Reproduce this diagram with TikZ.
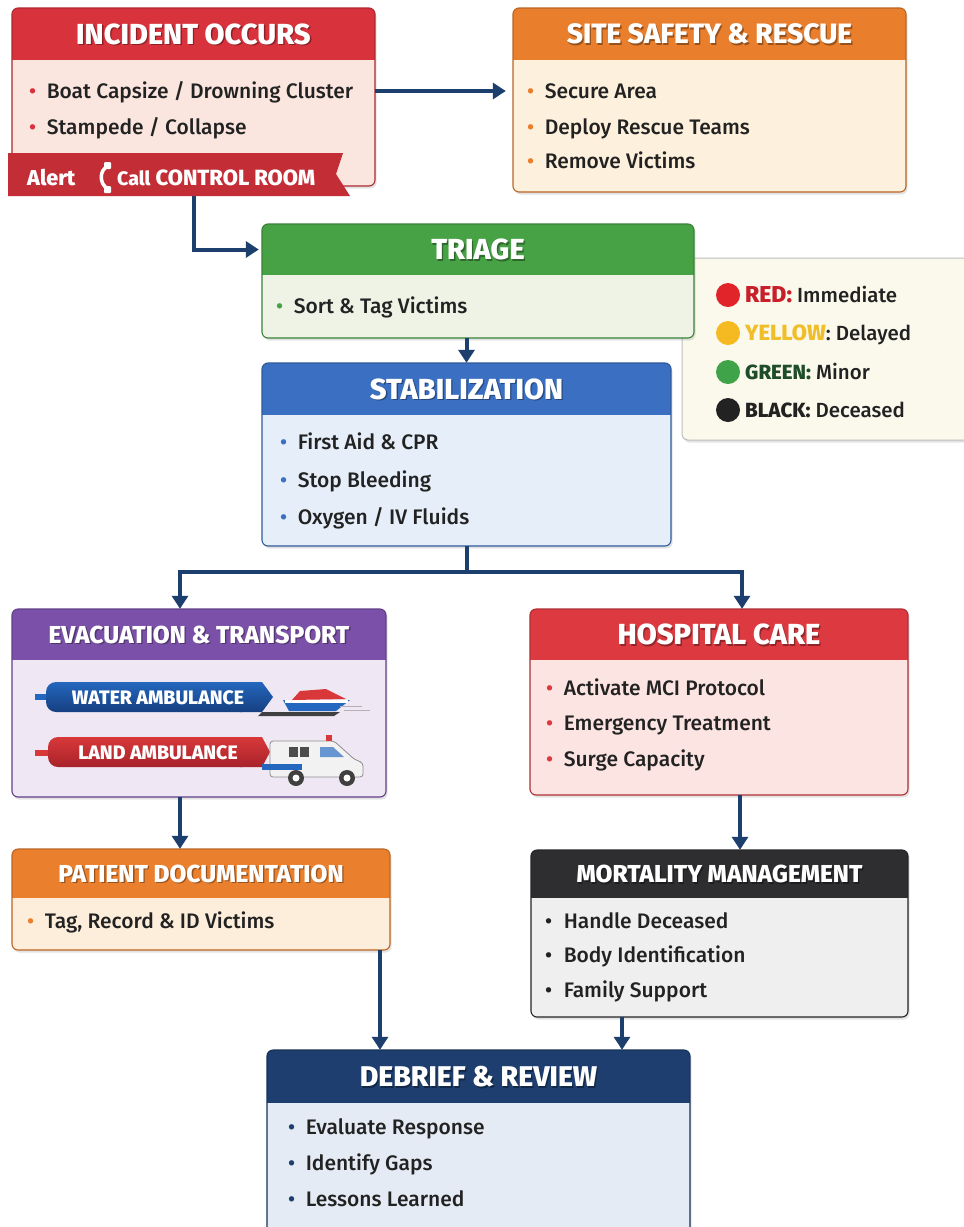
\documentclass[tikz,border=0pt]{standalone}
\usepackage{fontspec}
\setmainfont{Fira Sans}
\newfontfamily\bodyfont{Fira Sans Medium}
\newfontfamily\headfont{Fira Sans ExtraBold}
\usetikzlibrary{arrows.meta,shadows,calc}

\definecolor{ink}{HTML}{222222}
\definecolor{flowblue}{HTML}{1D3F6E}
\definecolor{incHead}{HTML}{D8323C}\definecolor{incBody}{HTML}{FBE6DF}
\definecolor{siteHead}{HTML}{E97E2C}\definecolor{siteBody}{HTML}{FDF0DC}
\definecolor{triHead}{HTML}{47A145}\definecolor{triBody}{HTML}{EEF3E6}
\definecolor{stabHead}{HTML}{3B6FC1}\definecolor{stabBody}{HTML}{E5EEF9}
\definecolor{evacHead}{HTML}{7B50A8}\definecolor{evacBody}{HTML}{EFE7F3}
\definecolor{hospHead}{HTML}{DC3A40}\definecolor{hospBody}{HTML}{FBE4E2}
\definecolor{docHead}{HTML}{EA7F2D}\definecolor{docBody}{HTML}{FDEEDB}
\definecolor{mortHead}{HTML}{2E2E31}\definecolor{mortBody}{HTML}{EFEFEF}
\definecolor{debHead}{HTML}{1D3E6E}\definecolor{debBody}{HTML}{E5EBF4}
\definecolor{legBody}{HTML}{FBF9EC}
\definecolor{keyRed}{HTML}{C8202A}\definecolor{keyYellow}{HTML}{F0BE2A}
\definecolor{keyGreen}{HTML}{1F4D2A}
\definecolor{dotRed}{HTML}{E0242A}\definecolor{dotYellow}{HTML}{F5B921}
\definecolor{dotGreen}{HTML}{3FA34A}\definecolor{dotBlack}{HTML}{222222}
\definecolor{ambBlue}{HTML}{2467BE}\definecolor{ambBlueDk}{HTML}{163F80}
\definecolor{ambRed}{HTML}{D8383A}\definecolor{ambRedDk}{HTML}{A8232A}

\tikzset{
  x=1pt, y=-1pt,
  stagebody/.style={draw=none, rounded corners=6pt, inner sep=0pt,
    drop shadow={opacity=0.22, shadow xshift=1.5pt, shadow yshift=-2.5pt}},
  flow/.style={draw=flowblue, line width=4pt, -{Triangle[length=13pt,width=16pt]}},
  flowline/.style={draw=flowblue, line width=4pt},
  item/.style={anchor=west, inner sep=0pt, text height=17pt, text depth=3pt,
    text=ink, font=\bodyfont\fontsize{21}{22}\selectfont},
  headtxt/.style={inner sep=0pt, text=white, font=\headfont},
  keytxt/.style={anchor=west, inner sep=0pt, text height=17pt, text depth=3pt,
    text=ink, font=\bodyfont\fontsize{20.5}{22}\selectfont},
  ambtxt/.style={inner sep=0pt, text=white, font=\headfont\fontsize{19.5}{21}\selectfont},
}

% #1 name, #2 x1, #3 y1, #4 x2, #5 y2, #6 header bottom, #7 header colour, #8 body colour, #9 title
\newcommand{\stage}[9]{%
  \node[stagebody, fill=#8, minimum width={(#4-#2)*1pt}, minimum height={(#5-#3)*1pt}]
    (#1) at ({(#2+#4)/2},{(#3+#5)/2}) {};
  \begin{scope}
    \clip[rounded corners=6pt] (#2,#3) rectangle (#4,#5);
    \fill[#7] (#2,#3) rectangle (#4,#6);
  \end{scope}
  \draw[#7!80!black, line width=1.1pt, rounded corners=6pt] (#2,#3) rectangle (#4,#5);
  \node[headtxt, text=black, text opacity=0.35] (#1-sh) at ({(#2+#4)/2+1.3},{(#3+#6)/2+1.6}) {#9};
  \node[headtxt] (#1-t) at ({(#2+#4)/2},{(#3+#6)/2}) {#9};
}
% #1 name, #2 x, #3 y, #4 bullet colour, #5 text
\newcommand{\bitem}[5]{%
  \node[item] (#1) at (#2,#3) {\textcolor{#4}{\textbullet}\hspace{10.5pt}#5};
}
\newcommand{\titlesz}[1]{\fontsize{#1}{#1}\selectfont}

\begin{document}
\begin{tikzpicture}
\fill[white] (0,0) rectangle (964,1227);
\useasboundingbox (0,0) rectangle (964,1227);

% ---- incident ----
\stage{incident}{12}{8}{375}{186}{60}{incHead}{incBody}{\titlesz{29}INCIDENT OCCURS}
\bitem{inc1}{29}{91}{incHead}{Boat Capsize / Drowning Cluster}
\bitem{inc2}{29}{127}{incHead}{Stampede / Collapse}

% ---- site safety ----
\stage{site}{513}{8}{906}{192}{60}{siteHead}{siteBody}{\titlesz{28}SITE SAFETY \& RESCUE}
\bitem{site1}{527}{91}{siteHead}{Secure Area}
\bitem{site2}{527}{127}{siteHead}{Deploy Rescue Teams}
\bitem{site3}{527}{161}{siteHead}{Remove Victims}

% ---- triage legend ----
\node[stagebody, fill=legBody, draw=black!25, line width=1pt,
      minimum width=293pt, minimum height=182pt] (legend) at (828.5,349) {};
\fill[dotRed] (728,295) circle (12);
\node[keytxt] (kred) at (745,295) {\textcolor{keyRed}{\headfont\fontsize{23}{23}\selectfont RED:} Immediate};
\fill[dotYellow] (728,333) circle (12);
\node[keytxt] (kyel) at (745,333) {\textcolor{keyYellow}{\headfont\fontsize{22}{22}\selectfont YELLOW}: Delayed};
\fill[dotGreen] (728,372) circle (12);
\node[keytxt] (kgrn) at (745,372) {\textcolor{keyGreen}{\headfont GREEN:} Minor};
\fill[dotBlack] (728,410) circle (12);
\node[keytxt] (kblk) at (745,410) {{\headfont BLACK:} Deceased};

% ---- triage ----
\stage{triage}{262}{224}{694}{338}{275}{triHead}{triBody}{\titlesz{29}TRIAGE}
\bitem{tri1}{276}{306}{triHead}{Sort \& Tag Victims}

% ---- stabilization ----
\stage{stab}{262}{363}{671}{546}{415}{stabHead}{stabBody}{\titlesz{29}STABILIZATION}
\bitem{stab1}{280}{442}{stabHead}{First Aid \& CPR}
\bitem{stab2}{280}{480}{stabHead}{Stop Bleeding}
\bitem{stab3}{280}{517}{stabHead}{Oxygen / IV Fluids}

% ---- evacuation ----
\stage{evac}{12}{609}{386}{797}{660}{evacHead}{evacBody}{\titlesz{24.5}EVACUATION \& TRANSPORT}
% water ambulance banner
\fill[ambBlue] (35,694) rectangle (50,700);
\shade[top color=ambBlue, bottom color=ambBlueDk, rounded corners=10pt] (46,682) rectangle (252,712);
\shade[top color=ambBlue, bottom color=ambBlueDk] (240,682) -- (262,682) -- (273,697) -- (262,712) -- (240,712) -- cycle;
\fill[black!75] (262,712) -- (340,712) -- (334,716) -- (258,716) -- cycle;
\node[ambtxt] (water) at (158,698) {WATER AMBULANCE};
% boat
\fill[ambBlue] (283,700) -- (350,700) -- (336,711) -- (289,711) -- cycle;
\fill[white] (285,700) rectangle (348,703);
\fill[ambRed] (292,700) -- (300,691) -- (326,689) -- (346,699) -- cycle;
\draw[black!30, line width=1pt] (340,706) -- (362,706) (344,710) -- (370,710);
% land ambulance banner
\fill[ambRed] (35,750) rectangle (52,756);
\shade[top color=ambRed, bottom color=ambRedDk, rounded corners=10pt] (48,737) rectangle (252,767);
\shade[top color=ambRed, bottom color=ambRedDk] (240,737) -- (262,737) -- (270,752) -- (262,767) -- (240,767) -- cycle;
\node[ambtxt] (land) at (158,753) {LAND AMBULANCE};
% van
\filldraw[fill=black!5, draw=black!45, line width=0.8pt, rounded corners=3pt]
  (270,741) -- (334,741) -- (354,759) -- (363,763) -- (363,777) -- (270,777) -- cycle;
\fill[ambBlue] (262,764) rectangle (302,770);
\fill[black!70] (289,747) rectangle (298,757);
\fill[black!70] (300,747) rectangle (309,757);
\fill[ambBlue!70] (320,747) -- (333,747) -- (344,757) -- (320,757) -- cycle;
\fill[ambRed] (326,735) rectangle (332,741);
\fill[black!75] (296,778) circle (8);
\fill[black!75] (347,778) circle (8);
\fill[white] (296,778) circle (3.5);
\fill[white] (347,778) circle (3.5);

% ---- hospital ----
\stage{hosp}{530}{609}{908}{795}{660}{hospHead}{hospBody}{\titlesz{29}HOSPITAL CARE}
\bitem{hosp1}{546}{688}{hospHead}{Activate MCI Protocol}
\bitem{hosp2}{546}{723}{hospHead}{Emergency Treatment}
\bitem{hosp3}{546}{759}{hospHead}{Surge Capacity}

% ---- patient documentation ----
\stage{pdoc}{12}{849}{390}{950}{898}{docHead}{docBody}{\titlesz{24.5}PATIENT DOCUMENTATION}
\bitem{doc1}{27}{921}{docHead}{Tag, Record \& ID Victims}

% ---- mortality ----
\stage{mort}{531}{850}{908}{1017}{898}{mortHead}{mortBody}{\titlesz{24.5}MORTALITY MANAGEMENT}
\bitem{mort1}{545}{921}{ink}{\hspace{1pt}Handle Deceased}
\bitem{mort2}{545}{955}{ink}{\hspace{1pt}Body Identification}
\bitem{mort3}{545}{990}{ink}{\hspace{1pt}Family Support}

% ---- debrief ----
\stage{debrief}{267}{1050}{690}{1245}{1103}{debHead}{debBody}{\titlesz{28.5}DEBRIEF \& REVIEW}
\bitem{deb1}{288}{1127}{debHead}{Evaluate Response}
\bitem{deb2}{288}{1163}{debHead}{Identify Gaps}
\bitem{deb3}{288}{1199}{debHead}{Lessons Learned}

% ---- connectors ----
\draw[flow, shorten >=7pt] (incident.east |- inc1) -- (site.west |- inc1);
\draw[flow, shorten <=9pt, shorten >=3pt] (incident.south) |- (triage.west |- triage-t);
\draw[flow] (stab.north |- triage.south) -- (stab.north);
\coordinate (split) at (466.5,572);
\draw[flowline] (stab.south) -- (split);
\draw[flow] (split) -| ([xshift=-19pt]evac.north);
\draw[flow] (split) -| ([xshift=23pt]hosp.north);
\draw[flow] ([xshift=-19pt]evac.south) -- ([xshift=-19pt]evac.south |- pdoc.north);
\draw[flow] ([xshift=21pt]hosp.south) -- ([xshift=21pt]hosp.south |- mort.north);
\draw[flow] ([xshift=179pt]pdoc.south) -- ([xshift=179pt]pdoc.south |- debrief.north);
\draw[flow] ([xshift=-97.5pt]mort.south) -- ([xshift=-97.5pt]mort.south |- debrief.north);

% ---- alert ribbon ----
\fill[incHead!90!black] (8,153) -- (343,153) -- (336,174) -- (350,196) -- (8,196) -- cycle;
\node[headtxt, anchor=west, font=\headfont\fontsize{21.5}{22}\selectfont] (alert) at (27,178) {Alert};
\draw[white, line width=3.5pt, line cap=round] (108,166) .. controls (99,170) and (99,184) .. (108,189);
\fill[white, rounded corners=1pt] (104,162) rectangle (111,169);
\fill[white, rounded corners=1pt] (104,186) rectangle (111,193);
\node[headtxt, anchor=west, font=\headfont\fontsize{22}{22}\selectfont] (callroom) at (117,178)
  {{\fontsize{19.5}{20}\selectfont Call} CONTROL ROOM};
\end{tikzpicture}
\end{document}
